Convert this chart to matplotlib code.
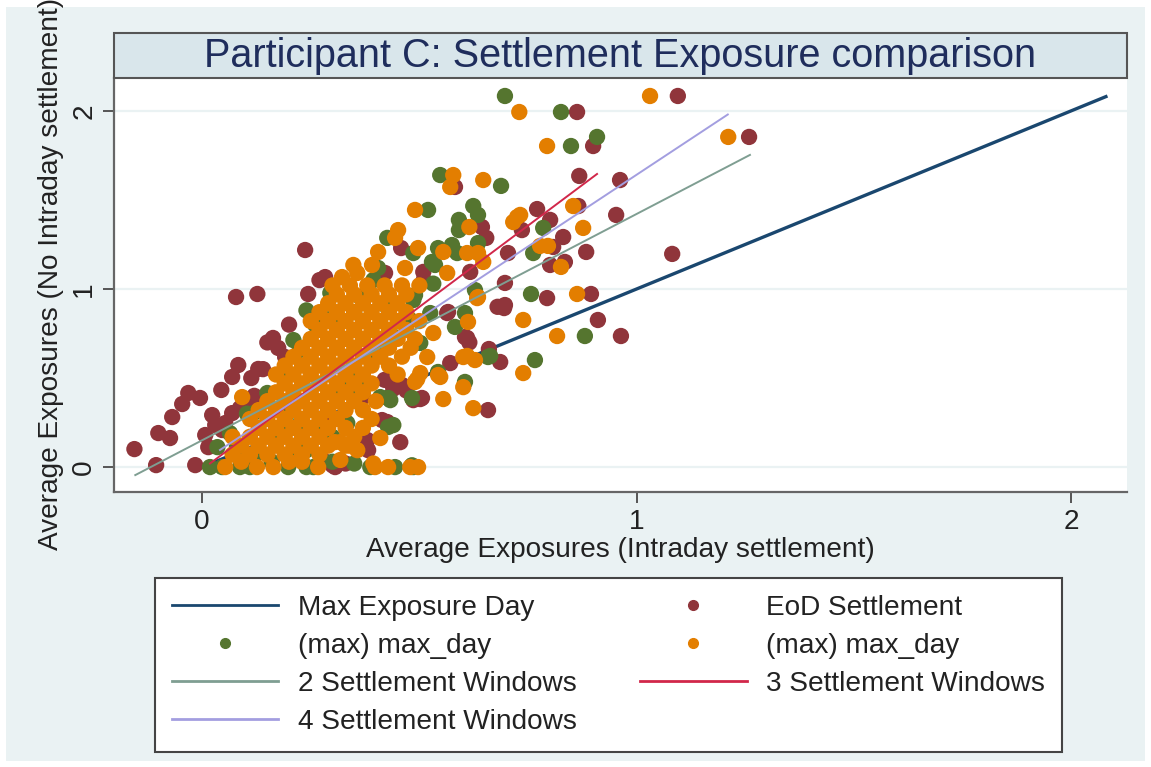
import numpy as np
import matplotlib
matplotlib.use("Agg")
import matplotlib.pyplot as plt
from matplotlib.lines import Line2D
from matplotlib.patches import Rectangle

plt.rcParams["font.family"] = ["Liberation Sans", "DejaVu Sans"]

# --- data --------------------------------------------------------------------
# 45-degree "Max Exposure Day" line
max_day_x = [0.0, 2.084]
max_day_y = [0.0, 2.084]

# fitted lines: (x0, x1), (y0, y1)
sw2_x = [-0.154, 1.261]
sw2_y = [-0.045, 1.753]
sw3_x = [0.018, 0.909]
sw3_y = [0.020, 1.646]
sw4_x = [0.041, 1.210]
sw4_y = [0.096, 1.980]

# EoD Settlement (maroon)
eod_pts = [
    (1.095, 2.084), (0.863, 1.994), (1.259, 1.854), (0.900, 1.803), (0.868, 1.635),
    (0.962, 1.612), (0.771, 1.449), (0.866, 1.466), (0.801, 1.388), (0.953, 1.416),
    (0.831, 1.292), (0.808, 1.236), (0.704, 1.202), (0.884, 1.208), (1.082, 1.197),
    (0.835, 1.152), (0.801, 1.135), (0.697, 1.034), (0.794, 0.949), (0.895, 0.972),
    (0.695, 0.893), (0.911, 0.826), (0.964, 0.736), (0.605, 0.730), (0.615, 0.700),
    (0.660, 0.663), (0.686, 0.590), (0.658, 0.320), (0.582, 1.573), (0.644, 1.348),
    (0.654, 1.287), (0.458, 1.230), (0.421, 1.090), (0.617, 1.096), (0.283, 1.067),
    (0.736, 1.331), (0.237, 1.219), (0.509, 1.096), (0.566, 0.871), (0.697, 0.910),
    (0.510, 1.050), (0.270, 1.050),
    (0.078, 0.955), (0.127, 0.972), (0.244, 0.972), (0.163, 0.725), (0.175, 0.669),
    (0.191, 0.618), (0.083, 0.573), (0.069, 0.506), (0.129, 0.551), (0.113, 0.500),
    (0.044, 0.433), (-0.032, 0.416), (-0.005, 0.388), (-0.046, 0.354), (-0.069, 0.281),
    (-0.101, 0.191), (-0.074, 0.163), (-0.156, 0.101), (-0.106, 0.011), (-0.016, 0.011),
    (0.023, 0.292), (0.030, 0.236), (0.007, 0.180), (0.014, 0.112), (0.053, 0.247),
    (0.069, 0.303), (0.087, 0.331), (0.106, 0.348), (0.046, 0.208), (0.140, 0.550),
    (0.150, 0.700), (0.120, 0.400), (0.200, 0.800),
    (0.306, 0.000), (0.278, 0.039), (0.382, 0.095), (0.456, 0.140), (0.502, 0.382),
    (0.433, 0.478), (0.460, 0.461), (0.440, 0.440), (0.470, 0.430), (0.420, 0.490),
    (0.486, 0.376), (0.370, 0.393), (0.426, 0.253), (0.288, 0.303), (0.414, 0.264),
    (0.380, 0.152), (0.564, 0.865), (0.610, 0.725), (0.680, 0.900), (0.571, 0.584),
    (0.506, 0.388), (0.300, 0.010), (0.330, 0.020),
]

# (max) max_day, first series (green)
green_pts = [
    (0.697, 2.084), (0.826, 1.994), (0.849, 1.803), (0.909, 1.854), (0.688, 1.579),
    (0.785, 1.343), (0.762, 1.202), (0.628, 0.994), (0.757, 0.972), (0.582, 0.787),
    (0.881, 0.736), (0.663, 0.624), (0.766, 0.601), (0.605, 0.478), (0.548, 1.640),
    (0.520, 1.444), (0.624, 1.466), (0.635, 1.416), (0.591, 1.388), (0.591, 1.331),
    (0.426, 1.287), (0.635, 1.258), (0.486, 1.202), (0.543, 1.230), (0.575, 1.247),
    (0.587, 1.202), (0.405, 1.118), (0.536, 1.135), (0.529, 1.152), (0.658, 0.618),
    (0.605, 0.865), (0.490, 0.966), (0.543, 0.534), (0.483, 0.388), (0.428, 0.388),
    (0.440, 0.236), (0.428, 0.225), (0.278, 0.180),
    (0.018, 0.000), (0.046, 0.000), (0.087, 0.000), (0.198, 0.000), (0.256, 0.000),
    (0.387, 0.000), (0.444, 0.000), (0.486, 0.000), (0.483, 0.010), (0.110, 0.000),
    (0.240, 0.000),
    (0.225, 0.657), (0.260, 0.800), (0.290, 0.830), (0.310, 0.850), (0.350, 0.870),
    (0.196, 0.528), (0.150, 0.416), (0.118, 0.303), (0.035, 0.112), (0.240, 0.095),
    (0.300, 0.169), (0.334, 0.247), (0.357, 0.489), (0.318, 0.449), (0.348, 0.416),
    (0.410, 0.393), (0.433, 0.376), (0.272, 0.225), (0.226, 0.247), (0.196, 0.303),
    (0.180, 0.191), (0.127, 0.079), (0.080, 0.112), (0.064, 0.190), (0.103, 0.300),
    (0.210, 0.713), (0.240, 0.880), (0.295, 0.978), (0.364, 0.955), (0.394, 1.050),
    (0.426, 0.899), (0.486, 0.938), (0.433, 0.753), (0.403, 0.640), (0.479, 0.826),
    (0.502, 0.697), (0.525, 0.865), (0.532, 1.030), (0.160, 0.030), (0.200, 0.060),
    (0.300, 0.030), (0.350, 0.020),
]

# (max) max_day, second series (orange)
orange_pts = [
    (1.031, 2.084), (0.730, 1.994), (1.211, 1.854), (0.794, 1.803), (0.647, 1.612),
    (0.854, 1.466), (0.725, 1.404), (0.716, 1.376), (0.877, 1.343), (0.778, 1.242),
    (0.796, 1.242), (0.826, 1.124), (0.633, 0.949), (0.863, 0.972), (0.739, 0.826),
    (0.817, 0.736), (0.612, 0.815), (0.610, 0.624), (0.628, 0.601), (0.739, 0.528),
    (0.601, 0.449), (0.624, 0.331), (0.578, 1.640), (0.571, 1.573), (0.490, 1.444),
    (0.615, 1.348), (0.451, 1.331), (0.444, 1.287), (0.497, 1.230), (0.555, 1.208),
    (0.610, 1.202), (0.635, 1.202), (0.647, 1.152), (0.405, 1.208), (0.391, 1.135),
    (0.348, 1.135), (0.357, 1.090), (0.467, 1.118), (0.564, 1.090), (0.322, 1.067),
    (0.732, 1.416), (0.555, 0.382), (0.543, 0.517), (0.495, 0.494), (0.502, 0.528),
    (0.518, 0.618), (0.532, 0.753), (0.601, 0.618), (0.548, 0.506), (0.490, 0.478),
    (0.635, 0.955), (0.092, 0.393),
    (0.053, 0.000), (0.126, 0.000), (0.164, 0.000), (0.267, 0.000), (0.398, 0.000),
    (0.428, 0.000), (0.479, 0.000), (0.497, 0.000), (0.318, 0.040), (0.357, 0.095),
    (0.318, 0.140), (0.305, 0.140), (0.410, 0.163), (0.394, 0.020), (0.340, 0.120),
    # dense core of the cloud
    (0.09, 0.03), (0.20, 0.03), (0.23, 0.03),
    (0.07, 0.07), (0.11, 0.07), (0.15, 0.07), (0.19, 0.07), (0.23, 0.07), (0.27, 0.07),
    (0.09, 0.12), (0.13, 0.12), (0.17, 0.12), (0.21, 0.12), (0.25, 0.12), (0.29, 0.12), (0.33, 0.12),
    (0.07, 0.17), (0.11, 0.17), (0.15, 0.17), (0.19, 0.17), (0.23, 0.17), (0.27, 0.17), (0.35, 0.17),
    (0.13, 0.22), (0.17, 0.22), (0.21, 0.22), (0.25, 0.22), (0.29, 0.22), (0.33, 0.22), (0.37, 0.22),
    (0.11, 0.27), (0.15, 0.27), (0.19, 0.27), (0.23, 0.27), (0.27, 0.27), (0.31, 0.27), (0.39, 0.27),
    (0.13, 0.32), (0.17, 0.32), (0.21, 0.32), (0.25, 0.32), (0.29, 0.32), (0.33, 0.32), (0.37, 0.32),
    (0.15, 0.37), (0.19, 0.37), (0.23, 0.37), (0.27, 0.37), (0.31, 0.37), (0.35, 0.37), (0.40, 0.37),
    (0.17, 0.42), (0.21, 0.42), (0.25, 0.42), (0.29, 0.42), (0.33, 0.42), (0.37, 0.42),
    (0.19, 0.47), (0.23, 0.47), (0.27, 0.47), (0.31, 0.47), (0.35, 0.47), (0.39, 0.47),
    (0.17, 0.52), (0.21, 0.52), (0.25, 0.52), (0.29, 0.52), (0.33, 0.52), (0.37, 0.52), (0.45, 0.52),
    (0.19, 0.57), (0.23, 0.57), (0.27, 0.57), (0.31, 0.57), (0.35, 0.57), (0.39, 0.57), (0.43, 0.57),
    (0.21, 0.62), (0.25, 0.62), (0.29, 0.62), (0.33, 0.62), (0.37, 0.62), (0.41, 0.62), (0.46, 0.62),
    (0.23, 0.67), (0.27, 0.67), (0.31, 0.67), (0.35, 0.67), (0.39, 0.67), (0.43, 0.67), (0.48, 0.67),
    (0.25, 0.72), (0.29, 0.72), (0.33, 0.72), (0.37, 0.72), (0.41, 0.72), (0.45, 0.72), (0.49, 0.72),
    (0.27, 0.77), (0.31, 0.77), (0.35, 0.77), (0.39, 0.77), (0.43, 0.77), (0.47, 0.77),
    (0.25, 0.82), (0.29, 0.82), (0.33, 0.82), (0.37, 0.82), (0.41, 0.82), (0.45, 0.82), (0.50, 0.82),
    (0.27, 0.87), (0.31, 0.87), (0.35, 0.87), (0.39, 0.87), (0.43, 0.87), (0.47, 0.87),
    (0.29, 0.92), (0.33, 0.92), (0.37, 0.92), (0.41, 0.92), (0.45, 0.92),
    (0.31, 0.97), (0.35, 0.97), (0.39, 0.97), (0.43, 0.97), (0.47, 0.97),
    (0.30, 1.02), (0.34, 1.02), (0.38, 1.02), (0.42, 1.02), (0.46, 1.02), (0.50, 1.02),
]

x_ticks = [0, 1, 2]
y_ticks = [0, 1, 2]

# --- colours (Stata s2color) -------------------------------------------------
NAVY = "#1a476f"
MAROON = "#90353b"
GREEN = "#55752f"
ORANGE = "#e37e00"
TEAL = "#7f9e92"
CRANBERRY = "#d1274a"
LAVENDER = "#a39ee0"
BG = "#eaf2f3"
TXT = "#222222"
FS = 20.2

W, H = 1151, 767
fig = plt.figure(figsize=(W / 100, H / 100), dpi=100, facecolor="white")
fig.patches.append(Rectangle((6 / W, 6 / H), 1 - 12 / W, 1 - 13 / H,
                             transform=fig.transFigure, facecolor=BG,
                             edgecolor="none", zorder=-10))

L, R, B, T = 114 / W, 1127 / W, 1 - 492 / H, 1 - 78 / H
ax = fig.add_axes([L, B, R - L, T - B])
ax.set_facecolor("white")

# title box
fig.patches.append(Rectangle((L, T), R - L, (78 - 33) / H, transform=fig.transFigure,
                             facecolor="#d9e6eb", edgecolor="#555555", lw=1.5, zorder=5))
fig.text((L + R) / 2, 1 - 56 / H, "Participant C: Settlement Exposure comparison",
         ha="center", va="center", fontsize=28.5, color="#1f2d5c", zorder=6)

for yv in y_ticks:
    ax.axhline(yv, color=BG, lw=1.6, zorder=0)

ax.plot(max_day_x, max_day_y, color=NAVY, lw=2.4, zorder=2, solid_capstyle="butt")

ms = 138
for pts, col, z in [(eod_pts, MAROON, 3), (green_pts, GREEN, 4), (orange_pts, ORANGE, 5)]:
    arr = np.array(pts)
    ax.scatter(arr[:, 0], arr[:, 1], s=ms, color=col, edgecolors="none", zorder=z)

ax.plot(sw2_x, sw2_y, color=TEAL, lw=1.4, zorder=6)
ax.plot(sw3_x, sw3_y, color=CRANBERRY, lw=1.4, zorder=7)
ax.plot(sw4_x, sw4_y, color=LAVENDER, lw=1.4, zorder=8)

ax.set_xlim(-0.203, 2.129)
ax.set_ylim(-0.14, 2.185)
ax.set_xticks(x_ticks)
ax.set_yticks(y_ticks)
ax.set_xticklabels([str(v) for v in x_ticks], fontsize=FS, color=TXT)
ax.set_yticklabels([str(v) for v in y_ticks], fontsize=FS, color=TXT,
                   rotation=90, va="center")
ax.tick_params(direction="out", length=8, width=1.4, color="#555555", pad=4)
for side in ["top", "right"]:
    ax.spines[side].set_visible(False)
for side in ["left", "bottom"]:
    ax.spines[side].set_color("#666666")
    ax.spines[side].set_linewidth(1.6)

ax.set_xlabel("Average Exposures (Intraday settlement)", fontsize=FS, color=TXT)
ax.xaxis.set_label_coords(0.5, -0.14)
ax.xaxis.label.set_va("center")
ax.set_ylabel("Average Exposures (No Intraday settlement)", fontsize=FS, color=TXT)
ax.yaxis.set_label_coords(-0.062, 0.527)
ax.yaxis.label.set_va("center")

handles = [
    Line2D([], [], color=NAVY, lw=2),
    Line2D([], [], ls="none", marker="o", ms=7, color=GREEN),
    Line2D([], [], color=TEAL, lw=2),
    Line2D([], [], color=LAVENDER, lw=2),
    Line2D([], [], ls="none", marker="o", ms=7, color=MAROON),
    Line2D([], [], ls="none", marker="o", ms=7, color=ORANGE),
    Line2D([], [], color=CRANBERRY, lw=2),
]
labels = ["Max Exposure Day", "(max) max_day", "2 Settlement Windows",
          "4 Settlement Windows", "EoD Settlement", "(max) max_day",
          "3 Settlement Windows"]
leg = fig.legend(handles, labels, ncol=2, loc="upper left",
                 bbox_to_anchor=(155 / W, 1 - 578 / H), fontsize=FS,
                 frameon=True, fancybox=False, edgecolor="#444444", framealpha=1,
                 handlelength=3.8, handletextpad=0.7, columnspacing=2.25,
                 labelspacing=0.43, borderpad=0.6, borderaxespad=0)
leg.get_frame().set_linewidth(1.5)
for t in leg.get_texts():
    t.set_color(TXT)

fig.savefig("out.png", dpi=100, facecolor=fig.get_facecolor())
